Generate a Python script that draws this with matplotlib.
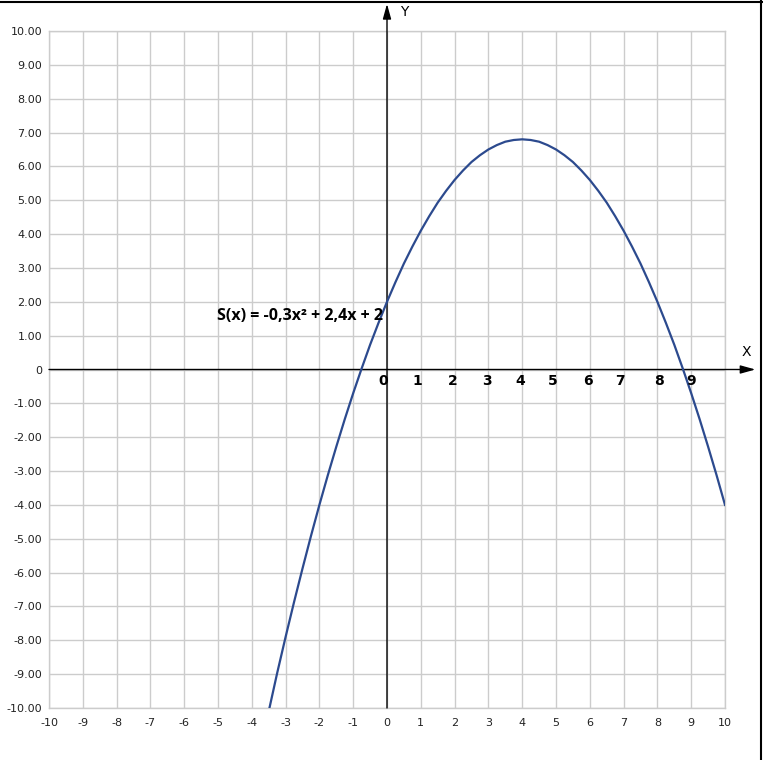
import matplotlib
matplotlib.use("Agg")
import matplotlib.pyplot as plt
import numpy as np

# Curve values
curve_x = [-3.5, -3.25, -3.0, -2.75, -2.5, -2.25, -2.0, -1.75, -1.5, -1.25, -1.0, -0.75,
           -0.5, -0.25, 0.0, 0.25, 0.5, 0.75, 1.0, 1.25, 1.5, 1.75, 2.0, 2.25, 2.5, 2.75,
           3.0, 3.25, 3.5, 3.75, 4.0, 4.25, 4.5, 4.75, 5.0, 5.25, 5.5, 5.75, 6.0, 6.25,
           6.5, 6.75, 7.0, 7.25, 7.5, 7.75, 8.0, 8.25, 8.5, 8.75, 9.0, 9.25, 9.5, 9.75, 10.0]
curve_y = [-10.1, -8.97, -7.9, -6.87, -5.88, -4.92, -4.0, -3.12, -2.28, -1.47, -0.7, 0.03,
           0.73, 1.38, 2.0, 2.58, 3.13, 3.63, 4.1, 4.53, 4.93, 5.28, 5.6, 5.88, 6.13, 6.33,
           6.5, 6.63, 6.73, 6.78, 6.8, 6.78, 6.73, 6.63, 6.5, 6.33, 6.13, 5.88, 5.6, 5.28,
           4.93, 4.53, 4.1, 3.63, 3.13, 2.58, 2.0, 1.38, 0.73, 0.03, -0.7, -1.47, -2.28, -3.12, -4.0]

x_ticks = list(range(-10, 11))
y_ticks = list(range(-10, 11))
y_tick_labels = ["0" if v == 0 else f"{v:.2f}" for v in y_ticks]
axis_numbers = [0, 1, 2, 3, 4, 5, 6, 7, 8, 9]
axis_number_offsets = [-0.1, -0.1, -0.05, -0.05, -0.05, -0.1, -0.05, -0.1, 0.05, 0.0]
formula = "S(x) = -0,3x² + 2,4x + 2"

fig = plt.figure(figsize=(7.63, 7.60), dpi=100)
ax = fig.add_axes([49/763, 52/760, 676/763, 677/760])
ax.set_xlim(-10, 10)
ax.set_ylim(-10, 10)
ax.set_xticks(x_ticks)
ax.set_yticks(y_ticks)
ax.set_xticklabels([str(v) for v in x_ticks], fontsize=8)
ax.set_yticklabels(y_tick_labels, fontsize=8)
ax.tick_params(length=0, pad=5, colors="#222222")
ax.tick_params(axis="x", pad=7)
ax.grid(True, color="#cccccc", linewidth=1.0)
ax.set_axisbelow(True)
for s in ax.spines.values():
    s.set_color("#cccccc")
    s.set_linewidth(1.0)

# axes with arrows
ax.annotate("", xy=(10.9, 0), xytext=(-10, 0),
            arrowprops=dict(arrowstyle="-|>,head_length=0.9,head_width=0.25", color="black", lw=1.0,
                            shrinkA=0, shrinkB=0), annotation_clip=False)
ax.annotate("", xy=(0, 10.8), xytext=(0, -10),
            arrowprops=dict(arrowstyle="-|>,head_length=0.9,head_width=0.25", color="black", lw=1.0,
                            shrinkA=0, shrinkB=0), annotation_clip=False)
ax.text(10.62, 0.53, "X", fontsize=10, ha="center", va="center", clip_on=False)
ax.text(0.5, 10.55, "Y", fontsize=10, ha="center", va="center", clip_on=False)

ax.plot(curve_x, curve_y, color="#2c4a8e", linewidth=1.6, solid_joinstyle="round", zorder=3)

for n, off in zip(axis_numbers, axis_number_offsets):
    ax.text(n + off, -0.33, str(n), fontsize=10, fontweight="bold", ha="center", va="center")

ax.text(-5.03, 1.57, formula, fontsize=11.5, fontweight="bold", ha="left", va="center",
        family="Open Sans")

# figure frame (top and right)
fig.add_artist(plt.Line2D([0, 1], [0.998, 0.998], color="black", linewidth=1.5, transform=fig.transFigure))
fig.add_artist(plt.Line2D([0.998, 0.998], [0, 1], color="black", linewidth=1.5, transform=fig.transFigure))

fig.savefig("out.png", dpi=100, facecolor="white")
